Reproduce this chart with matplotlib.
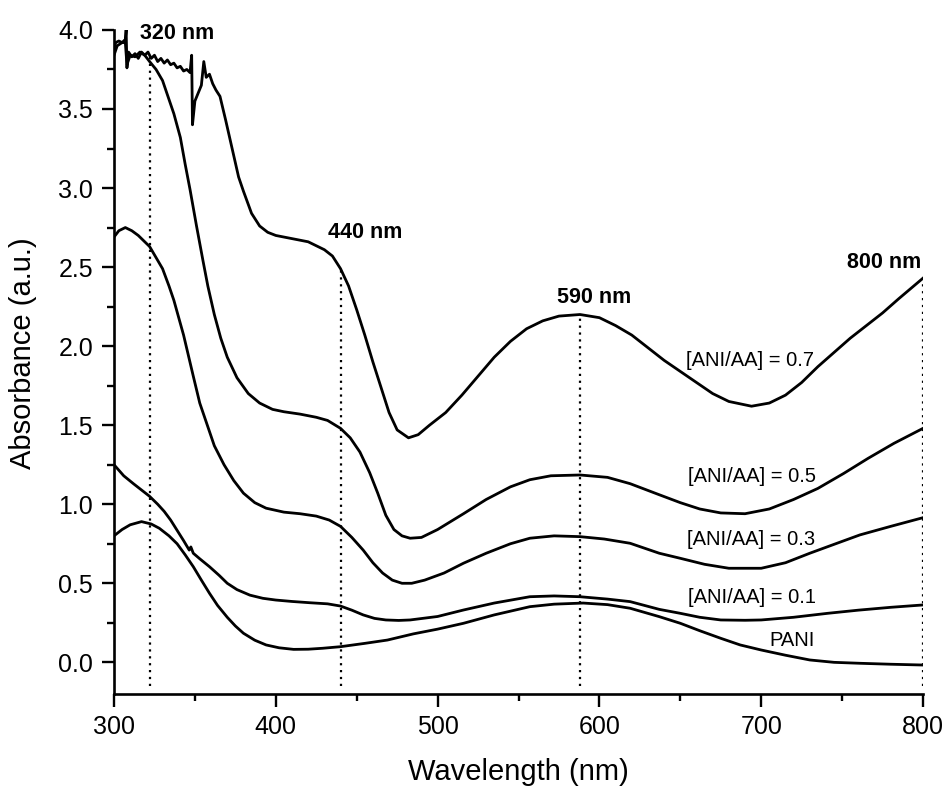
import numpy as np
import matplotlib
matplotlib.use("Agg")
import matplotlib.pyplot as plt

plt.rcParams['font.family'] = ['Liberation Sans', 'DejaVu Sans']

# UV-vis spectra (wavelength in nm, absorbance in a.u.)
wl_07 = [300, 301, 303, 305, 307, 307.5, 308, 309, 311, 313, 315, 317, 319, 321, 323, 325,
         327, 329, 331, 333, 335, 337, 339, 341, 343, 345, 347, 348, 348.5, 350, 352, 354,
         355.5, 357, 359, 361, 363, 365.5, 369, 373, 377, 380, 385, 390, 395, 400, 410, 420,
         430, 435, 440, 445, 450, 455, 460, 465, 470, 475, 482, 488, 495, 505, 515, 525, 535,
         545, 555, 565, 575, 588, 600, 610, 620, 630, 640, 650, 660, 670, 680, 694, 705, 715,
         725, 735, 745, 755, 765, 775, 785, 800]
abs_07 = [3.86, 3.92, 3.93, 3.92, 3.94, 4.00, 3.76, 3.86, 3.83, 3.85, 3.82, 3.86, 3.84, 3.86,
          3.82, 3.84, 3.80, 3.82, 3.79, 3.81, 3.78, 3.79, 3.76, 3.77, 3.74, 3.75, 3.73, 3.84,
          3.40, 3.55, 3.60, 3.65, 3.80, 3.70, 3.72, 3.66, 3.62, 3.58, 3.43, 3.25, 3.07, 2.98,
          2.84, 2.76, 2.72, 2.70, 2.68, 2.66, 2.61, 2.57, 2.49, 2.38, 2.23, 2.07, 1.90, 1.74,
          1.58, 1.47, 1.42, 1.44, 1.50, 1.58, 1.69, 1.81, 1.93, 2.03, 2.11, 2.16, 2.19, 2.20,
          2.18, 2.13, 2.07, 1.99, 1.91, 1.84, 1.77, 1.70, 1.65, 1.62, 1.64, 1.69, 1.77, 1.87,
          1.96, 2.05, 2.13, 2.21, 2.30, 2.43]

wl_05 = [300, 302, 305, 307, 308, 310, 313, 316, 319, 322, 326, 330, 334, 337, 341, 344, 347,
         351, 355, 358, 362, 366, 370, 376, 383, 390, 398, 405, 415, 425, 432, 440, 446, 452,
         458, 463, 468, 473, 478, 483, 490, 500, 516, 530, 545, 557, 570, 588, 605, 619, 637,
         650, 662, 675, 690, 705, 720, 735, 751, 766, 782, 800]
abs_05 = [3.84, 3.90, 3.92, 3.92, 3.78, 3.84, 3.83, 3.86, 3.84, 3.80, 3.75, 3.68, 3.56, 3.47,
          3.32, 3.15, 2.99, 2.76, 2.54, 2.38, 2.20, 2.05, 1.93, 1.80, 1.70, 1.64, 1.60, 1.585,
          1.57, 1.55, 1.53, 1.48, 1.42, 1.33, 1.20, 1.07, 0.93, 0.84, 0.80, 0.785, 0.79, 0.84,
          0.94, 1.03, 1.11, 1.155, 1.18, 1.185, 1.17, 1.13, 1.06, 1.01, 0.97, 0.945, 0.94,
          0.97, 1.03, 1.10, 1.195, 1.29, 1.385, 1.48]

wl_03 = [300, 303, 307, 311, 315, 319, 322, 326, 330, 334, 337, 340, 343, 346, 349, 353, 357,
         362, 368, 374, 380, 387, 394, 405, 415, 425, 433, 440, 447, 454, 460, 466, 472, 478,
         484, 492, 504, 516, 530, 545, 557, 572, 588, 603, 619, 637, 650, 665, 680, 700, 715,
         730, 746, 761, 780, 800]
abs_03 = [2.69, 2.73, 2.75, 2.73, 2.70, 2.66, 2.63, 2.56, 2.49, 2.38, 2.29, 2.18, 2.07, 1.94,
          1.81, 1.64, 1.52, 1.37, 1.25, 1.15, 1.07, 1.01, 0.975, 0.95, 0.94, 0.925, 0.90, 0.86,
          0.79, 0.71, 0.63, 0.565, 0.52, 0.50, 0.50, 0.52, 0.565, 0.627, 0.69, 0.75, 0.785,
          0.80, 0.795, 0.78, 0.753, 0.69, 0.658, 0.62, 0.595, 0.595, 0.63, 0.69, 0.75, 0.806,
          0.86, 0.915]

wl_01 = [300, 306, 312, 317, 322, 327, 331, 335, 339, 343, 346.5, 347.5, 349, 353, 359, 365,
         370, 376, 384, 392, 400, 410, 421, 432, 440, 447, 454, 461, 468, 476, 483, 500, 516,
         535, 557, 572, 588, 605, 619, 637, 650, 662, 675, 690, 700, 720, 741, 760, 780, 800]
abs_01 = [1.25, 1.18, 1.13, 1.09, 1.05, 1.00, 0.955, 0.90, 0.835, 0.77, 0.71, 0.73, 0.69,
          0.655, 0.605, 0.55, 0.50, 0.46, 0.425, 0.405, 0.394, 0.385, 0.377, 0.37, 0.356,
          0.33, 0.30, 0.278, 0.268, 0.265, 0.268, 0.29, 0.331, 0.375, 0.415, 0.42, 0.415,
          0.40, 0.384, 0.335, 0.31, 0.285, 0.268, 0.266, 0.268, 0.285, 0.31, 0.33, 0.348, 0.363]

wl_pani = [300, 305, 310, 317, 323, 328, 334, 339, 344, 349, 354, 359, 364, 370, 375, 380, 387,
           394, 402, 411, 420, 429, 440, 455, 469, 485, 500, 516, 535, 557, 572, 590, 605, 619,
           637, 650, 662, 675, 687, 700, 715, 730, 745, 761, 780, 800]
abs_pani = [0.80, 0.84, 0.87, 0.89, 0.875, 0.848, 0.80, 0.75, 0.68, 0.605, 0.52, 0.437, 0.36,
            0.285, 0.23, 0.184, 0.14, 0.11, 0.092, 0.082, 0.083, 0.089, 0.099, 0.12, 0.141,
            0.18, 0.21, 0.247, 0.30, 0.352, 0.368, 0.375, 0.365, 0.342, 0.289, 0.247, 0.20,
            0.152, 0.11, 0.078, 0.045, 0.015, 0.0, -0.006, -0.012, -0.017]

curve_labels = ["[ANI/AA] = 0.7", "[ANI/AA] = 0.5", "[ANI/AA] = 0.3", "[ANI/AA] = 0.1", "PANI"]
label_xy = [(693, 1.91), (694, 1.175), (694, 0.778), (694, 0.409), (719, 0.141)]

peaks = [322, 440, 588, 800]
peak_labels = ["320 nm", "440 nm", "590 nm", "800 nm"]
peak_label_xy = [(339, 3.975), (455, 2.72), (597, 2.305), (776, 2.53)]

fig = plt.figure(figsize=(9.5, 7.94), dpi=100)
ax = fig.add_axes([0.12, 0.126, 0.8516, 0.8363])

for xs, ys in [(wl_07, abs_07), (wl_05, abs_05), (wl_03, abs_03), (wl_01, abs_01), (wl_pani, abs_pani)]:
    ax.plot(xs, ys, color="black", lw=2.0)

# dotted markers from the bottom up to the top curve
for p in peaks:
    top = np.interp(p, wl_07, abs_07)
    ax.plot([p, p], [-0.15, top], color="black", lw=1.6, linestyle=(0, (1, 2.1)))

for txt, (x, y) in zip(curve_labels, label_xy):
    ax.text(x, y, txt, fontsize=14.5, ha="center", va="center")
for txt, (x, y) in zip(peak_labels, peak_label_xy):
    ax.text(x, y, txt, fontsize=15.5, fontweight="bold", ha="center", va="center")

ax.set_xlim(300, 800)
ax.set_ylim(-0.2, 4.0)
ax.set_xticks([300, 400, 500, 600, 700, 800])
ax.set_xticks([350, 450, 550, 650, 750], minor=True)
ax.set_yticks(np.arange(0, 4.01, 0.5))
ax.set_yticks(np.arange(0.25, 4.0, 0.5), minor=True)
ax.yaxis.set_major_formatter(matplotlib.ticker.FormatStrFormatter("%.1f"))

for s in ["top", "right"]:
    ax.spines[s].set_visible(False)
for s in ["left", "bottom"]:
    ax.spines[s].set_linewidth(1.9)

ax.tick_params(which="major", direction="out", length=9, width=1.7, labelsize=18, pad=6)
ax.tick_params(which="minor", direction="out", length=5, width=1.7)

ax.set_xlabel("Wavelength (nm)", fontsize=21)
ax.set_ylabel("Absorbance (a.u.)", fontsize=21)
ax.xaxis.set_label_coords(0.5, -0.097)
ax.yaxis.set_label_coords(-0.095, 0.513)

fig.savefig("out.png", dpi=100)
